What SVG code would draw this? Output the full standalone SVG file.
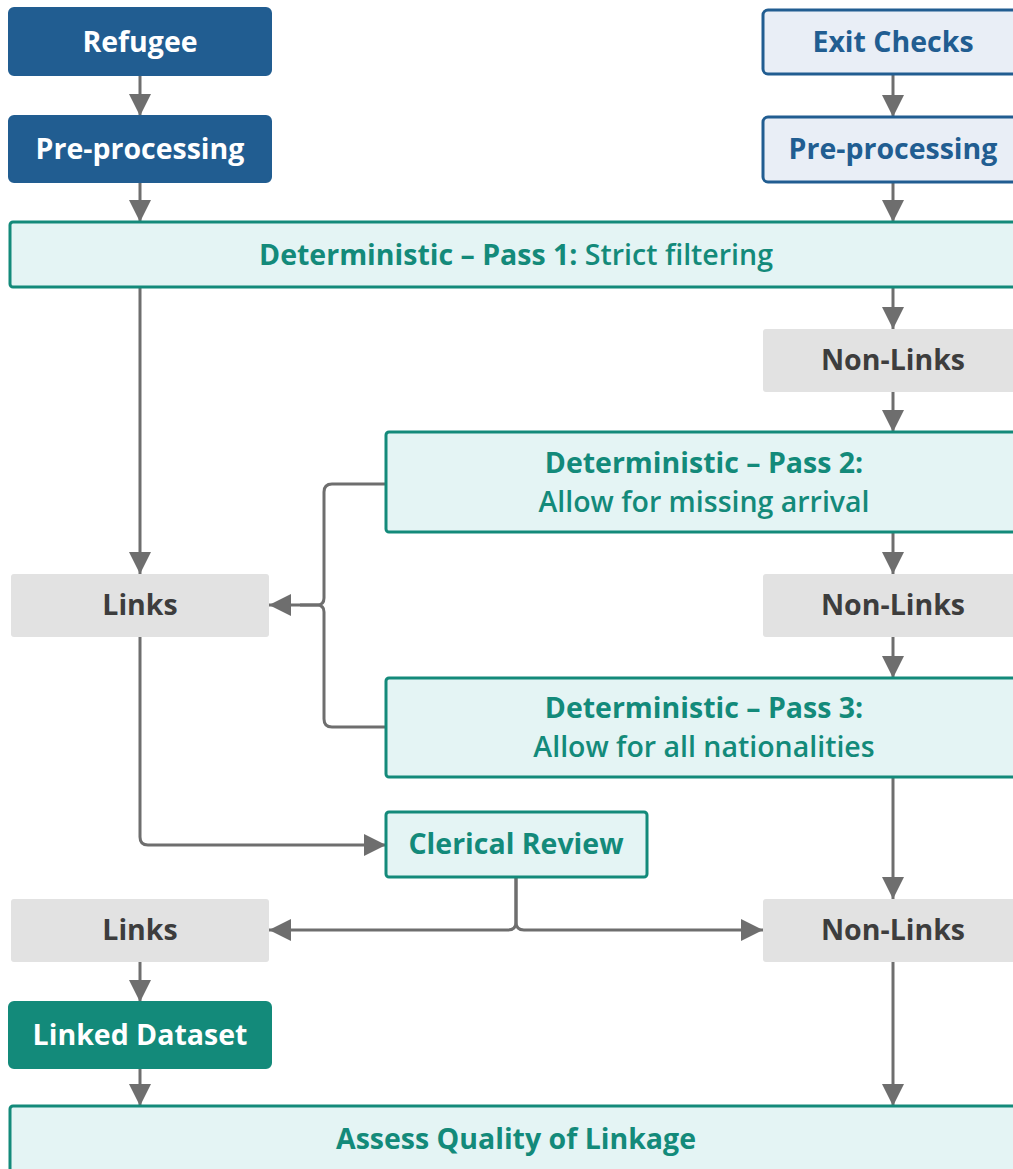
<svg xmlns="http://www.w3.org/2000/svg" width="1013" height="1169" viewBox="0 0 1013 1169">
<defs>
<marker id="ah" markerUnits="userSpaceOnUse" markerWidth="22" markerHeight="22" viewBox="0 0 20 20" refX="20" refY="10" orient="auto">
<path d="M0,0 L20,10 L0,20 Z" fill="#6e6e6e"/>
</marker>
</defs>
<style>
text{font-family:"Open Sans","Noto Sans","Liberation Sans",sans-serif;font-size:28.5px;font-weight:600;text-anchor:middle;dominant-baseline:central}
.b{font-weight:bold}
.dark rect{fill:#215d91;stroke:#215d91;stroke-width:2}
.dark text{fill:#fff}
.light rect{fill:#e9eef6;stroke:#215d91;stroke-width:3}
.light text{fill:#215d91}
.det rect{fill:#e4f4f4;stroke:#138a7a;stroke-width:3}
.det text{fill:#138a7a}
.grey rect{fill:#e2e2e2}
.grey text{fill:#3d3d3d}
.green rect{fill:#138a7a;stroke:#138a7a;stroke-width:2}
.green text{fill:#fff}
.c path{fill:none;stroke:#6e6e6e;stroke-width:3;marker-end:url(#ah)}
.c path.n{marker-end:none}
</style>
<g class="c" id="connectors">
<path d="M140,75 V116"/>
<path d="M140,182 V222"/>
<path d="M893,74 V117"/>
<path d="M893,182 V222"/>
<path d="M140,287 V574"/>
<path d="M893,287 V329"/>
<path d="M893,392 V432"/>
<path d="M893,532 V574"/>
<path d="M893,637 V678"/>
<path d="M893,777 V899"/>
<path class="n" d="M386,484 H332 Q324,484 324,492 V598 Q324,605 317,605 H300"/>
<path d="M386,727 H332 Q324,727 324,719 V612 Q324,605 317,605 H269"/>
<path d="M140,637 V837 Q140,845 148,845 H386"/>
<path d="M516,877 V922 Q516,930 508,930 H269"/>
<path d="M516,877 V922 Q516,930 524,930 H763"/>
<path d="M140,962 V1002"/>
<path d="M140,1068 V1106"/>
<path d="M893,962 V1106"/>
</g>
<g id="refugee" class="dark"><rect x="9" y="8" width="262" height="67" rx="5"/><text class="b" x="140" y="41">Refugee</text></g>
<g id="prep-left" class="dark"><rect x="9" y="116" width="262" height="66" rx="5"/><text class="b" x="140" y="148">Pre-processing</text></g>
<g id="exit-checks" class="light"><rect x="763" y="10" width="262" height="64" rx="5"/><text class="b" x="893" y="41">Exit Checks</text></g>
<g id="prep-right" class="light"><rect x="763" y="117" width="262" height="65" rx="5"/><text class="b" x="893" y="148">Pre-processing</text></g>
<g id="pass1" class="det"><rect x="10" y="222" width="1014" height="65" rx="3"/><text x="516" y="254"><tspan class="b">Deterministic – Pass 1:</tspan> Strict filtering</text></g>
<g id="nonlinks1" class="grey"><rect x="763" y="329" width="262" height="63" rx="3"/><text class="b" x="893" y="359">Non-Links</text></g>
<g id="pass2" class="det"><rect x="386" y="432" width="638" height="100" rx="3"/><text class="b" x="704" y="462">Deterministic – Pass 2:</text><text x="704" y="501">Allow for missing arrival</text></g>
<g id="links1" class="grey"><rect x="11" y="574" width="258" height="63" rx="3"/><text class="b" x="140" y="604">Links</text></g>
<g id="nonlinks2" class="grey"><rect x="763" y="574" width="262" height="63" rx="3"/><text class="b" x="893" y="604">Non-Links</text></g>
<g id="pass3" class="det"><rect x="386" y="678" width="638" height="99" rx="3"/><text class="b" x="704" y="707">Deterministic – Pass 3:</text><text x="704" y="746">Allow for all nationalities</text></g>
<g id="clerical" class="det"><rect x="386" y="812" width="261" height="65" rx="3"/><text class="b" x="516" y="843">Clerical Review</text></g>
<g id="links2" class="grey"><rect x="11" y="899" width="258" height="63" rx="3"/><text class="b" x="140" y="929">Links</text></g>
<g id="nonlinks3" class="grey"><rect x="763" y="899" width="262" height="63" rx="3"/><text class="b" x="893" y="929">Non-Links</text></g>
<g id="linked" class="green"><rect x="9" y="1002" width="262" height="66" rx="5"/><text class="b" x="140" y="1034">Linked Dataset</text></g>
<g id="assess" class="det"><rect x="10" y="1106" width="1014" height="70" rx="3"/><text class="b" x="516" y="1138">Assess Quality of Linkage</text></g>
</svg>
